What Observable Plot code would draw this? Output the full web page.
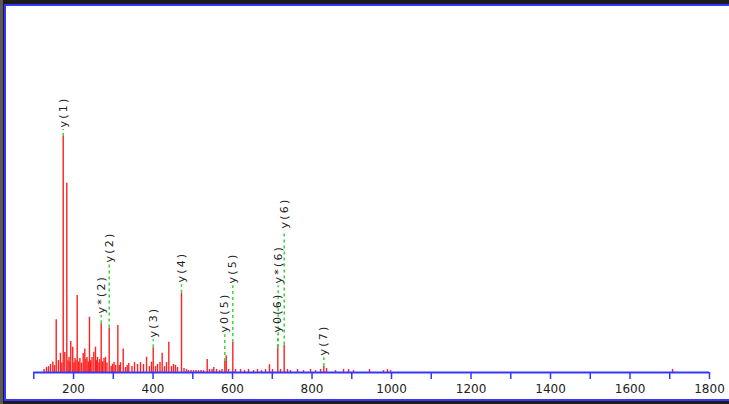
<!DOCTYPE html>
<html>
<head>
<meta charset="utf-8">
<script src="https://cdn.jsdelivr.net/npm/d3@7"></script>
<script src="https://cdn.jsdelivr.net/npm/@observablehq/plot@0.6"></script>
<style>
html,body{margin:0;padding:0;overflow:hidden;background:#fff;width:729px;height:404px}
#frame{position:absolute;left:0;top:0;width:729px;height:404px;background:#1c1c1c;box-sizing:border-box;border-left:3px solid #5a5a5a}
#inner{position:absolute;left:4px;top:4px;width:800px;height:397px;box-sizing:border-box;background:#fff;border:2px solid #3636ff}
#chart{position:absolute;left:0;top:0}
[aria-description="ion-labels"] text{letter-spacing:2.2px}
</style>
</head>
<body>
<div id="frame"></div>
<div id="inner"></div>
<div id="chart"></div>
<script>
// Spectrum peaks: m/z and relative intensity (% of base peak)
const peakMz = [125.7,132,137,142,147.8,152,156.4,162,167,170.5,174,178,183,186,188.6,191,193,198,201,203.7,206,209.2,213,216,220,224.3,228.3,231,233.9,237,240.1,243,246.4,251,255.2,258,260.3,264,266,269.6,273,276.6,280.4,284,289.7,294.7,298,301.8,306,311.4,315,318.1,325,330.7,335,339,347,353.4,361,368.5,376,383.6,391,396.2,400.4,406.2,411.2,417.5,423,428.9,433.9,439.7,446.5,451.5,456.5,461.6,471.6,477.9,484.2,489.2,495.5,501.8,508.1,514.4,520.7,527,536.3,542.1,548.4,552.9,559.7,567.3,573.5,580.6,584.1,589.9,600.7,607.5,620.1,630.1,640.2,652.8,662.8,672.9,683,693,700.6,713.9,720.7,730,738.3,745.9,763.5,778.6,796.2,808.8,821.4,829.7,836.5,859.1,879.3,891.8,904.4,944.6,979.9,989.9,997.5,1707];
const peakInt = [1.3,2.1,2.5,3.4,4.4,3.0,22.3,5.1,8.1,4.0,100,8.5,80.2,5.0,6.4,4.5,13.1,10.7,4.0,5.9,5.0,32.6,4.5,5.9,4.0,8.1,10.0,5.5,6.4,4.5,23.4,5.0,6.4,8.6,10.7,5.0,6.4,4.0,5.5,20.6,4.5,5.9,6.4,4.0,18.8,2.5,3.5,4.2,3.0,19.9,3.0,4.2,10.0,2.1,3.0,3.8,2.5,4.2,3.4,4.2,3.4,6.5,2.5,4.4,10.5,2.5,3.4,4.2,8.2,2.5,4.2,12.8,2.5,3.4,3.0,2.1,33.6,1.7,1.3,0.8,0.8,0.8,0.8,0.8,0.8,0.8,5.5,1.3,1.3,2.1,1.3,0.8,1.3,4.7,7.1,1.3,12.7,1.3,1.3,0.8,1.3,0.8,1.3,0.8,1.3,3.3,1.3,10.5,1.3,11.6,1.3,0.8,1.3,0.8,1.3,0.8,1.3,2.5,1.7,0.8,1.3,1.3,0.8,1.3,0.8,1.3,0.8,1.3];

// Annotated fragment ions
const ionNames  = ["y(1)","y*(2)","y(2)","y(3)","y(4)","y0(5)","y(5)","y0(6)","y*(6)","y(6)","y(7)"];
const ionMz     = [174,269.6,289.7,400.4,471.6,580.6,600.7,713.9,714.9,730,829.7];
const ionPeak   = [100,20.6,18.8,10.5,33.6,4.7,12.7,10.5,10.5,11.6,2.5];
const ionLabelAt= [103.8,25.0,46.6,14.8,38.1,16.9,37.7,16.9,37.7,61.0,7.2];

// Axis ticks
const tickValues = d3.range(100, 1801, 100);
const tickLabels = [200,400,600,800,1000,1200,1400,1600,1800];

const peaks = peakMz.map((mz, i) => ({mz, int: peakInt[i]}));
const ions = ionNames.map((name, i) => ({name, mz: ionMz[i], peak: ionPeak[i], labelAt: ionLabelAt[i]}));

const blue = "#3636ff";
const font = "DejaVu Sans, Verdana, sans-serif";

const chart = Plot.plot({
  width: 729,
  height: 404,
  marginLeft: 33.3,
  marginRight: 20,
  marginTop: 8,
  marginBottom: 32,
  x: {domain: [100, 1800], axis: null},
  y: {domain: [0, 154.2], axis: null},
  style: {background: "transparent", overflow: "visible"},
  marks: [
    Plot.ruleX(peaks, {x: "mz", y1: 0, y2: "int", stroke: "#ff2020", strokeWidth: 1.4}),
    Plot.ruleX(ions, {x: "mz", y1: "peak", y2: d => d.labelAt - 0.9, stroke: "#2ad42a", strokeWidth: 1.4, strokeDasharray: "3,3"}),
    Plot.text(ions, {x: "mz", y: "labelAt", text: "name", rotate: -90, textAnchor: "start", fontFamily: font, fontSize: 11, fill: "#222", ariaDescription: "ion-labels"}),
    Plot.ruleY([0], {stroke: blue, strokeWidth: 2}),
    Plot.ruleX(tickValues, {x: d => d, y1: 0, y2: 0, insetBottom: -7, stroke: blue, strokeWidth: 1.5}),
    Plot.text(tickLabels, {x: d => d, y: 0, dy: 17, text: d => String(d), fontFamily: font, fontSize: 12, fill: "#222"})
  ]
});
document.getElementById("chart").appendChild(chart);
</script>
</body>
</html>
